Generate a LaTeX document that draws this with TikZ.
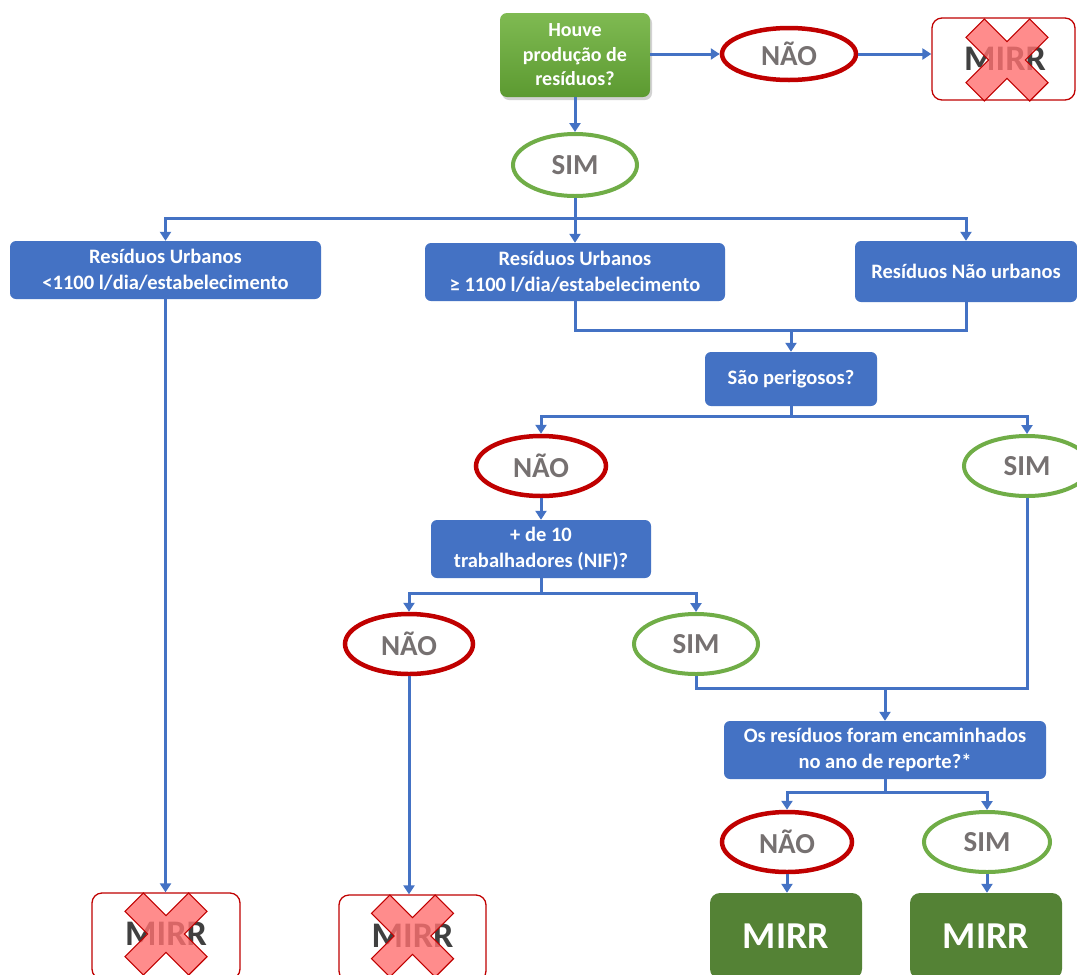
\documentclass[tikz,border=0pt]{standalone}
\usepackage{fontspec}
\setmainfont{Carlito}
\usetikzlibrary{shapes.geometric,arrows.meta,shadows}
\definecolor{cblue}{HTML}{4472C4}
\definecolor{cgreen}{HTML}{548235}
\definecolor{lgreen}{HTML}{70AD47}
\definecolor{cred}{HTML}{C00000}
\definecolor{cgrey}{HTML}{767171}
\definecolor{dgrey}{HTML}{404040}
\definecolor{xpink}{HTML}{FF7070}
\definecolor{gtop}{HTML}{7FBA52}
\definecolor{gbot}{HTML}{5C9A31}
\newcommand{\drawcross}[1]{%
  \filldraw[fill=xpink,fill opacity=0.8,draw=cred,line width=1.2pt,line join=miter]
   [shift={(#1)},rotate=45]
   (13,13)--(13,45)--(-13,45)--(-13,13)--(-45,13)--(-45,-13)--(-13,-13)--(-13,-45)--(13,-45)--(13,-13)--(45,-13)--(45,13)--cycle;}
\tikzset{
  conn/.style={draw=cblue,line width=3pt},
  arr/.style={conn,-{Triangle[width=11pt,length=9pt]}},
  bluebox/.style={rectangle,rounded corners=6pt,fill=cblue,text=white,align=center,
     font=\bfseries\fontsize{20.5}{26}\selectfont,inner sep=0pt},
  nao/.style={ellipse,draw=cred,line width=4.5pt,fill=white,text=cgrey,
     font=\bfseries\fontsize{29}{32}\selectfont,inner sep=0pt},
  sim/.style={ellipse,draw=lgreen,line width=4pt,fill=white,text=cgrey,
     font=\bfseries\fontsize{29}{32}\selectfont,inner sep=0pt},
  greenmirr/.style={rectangle,rounded corners=10pt,fill=cgreen,text=white,
     font=\bfseries\fontsize{38}{42}\selectfont,inner sep=0pt},
  nomirr/.style={rectangle,rounded corners=10pt,draw=cred,line width=1.3pt,fill=white,
     inner sep=0pt},
  mirrtxt/.style={text=dgrey,font=\bfseries\fontsize{36}{40}\selectfont,inner sep=0pt},
}
\begin{document}
\begin{tikzpicture}[x=1pt,y=-1pt]
\clip (0,0) rectangle (1077,975);
\fill[white] (0,0) rectangle (1077,975);
% top question
\node[rectangle,rounded corners=7pt,top color=gtop,bottom color=gbot,text=white,align=center,
  font=\bfseries\fontsize{20}{24.5}\selectfont,minimum width=150pt,minimum height=84pt,inner sep=0pt,
  drop shadow={opacity=0.35,shadow xshift=2pt,shadow yshift=-3pt}]
  (q1) at (575,55) {Houve\\produção de\\resíduos?};
\node[nao,minimum width=134pt,minimum height=52pt] (n1) at (789,54) {NÃO};
\node[nomirr,minimum width=143pt,minimum height=82pt] (x1) at (1003.5,59) {};
\node[mirrtxt] (x1t) at (1005,59) {MIRR};
\drawcross{1007,60}
\node[sim,minimum width=124pt,minimum height=62pt] (s1) at (575,165) {SIM};
% level 2 boxes
\node[bluebox,minimum width=311pt,minimum height=58pt] (b1) at (165.5,270) {Resíduos Urbanos\\<1100 l/dia/estabelecimento};
\node[bluebox,minimum width=300pt,minimum height=58pt] (b2) at (575,272) {Resíduos Urbanos\\≥ 1100 l/dia/estabelecimento};
\node[bluebox,minimum width=222pt,minimum height=61pt] (b3) at (966,271.5) {Resíduos Não urbanos};
\node[bluebox,minimum width=172pt,minimum height=54pt] (p1) at (791,379) {São perigosos?};
\node[nao,minimum width=130pt,minimum height=60pt] (n2) at (541,466) {NÃO};
\node[sim,minimum width=126pt,minimum height=60pt] (s2) at (1027,466) {SIM};
\node[bluebox,minimum width=220pt,minimum height=58pt] (t1) at (541,549) {+ de 10\\trabalhadores (NIF)?};
\node[nao,minimum width=128pt,minimum height=60pt] (n3) at (409,644) {NÃO};
\node[sim,minimum width=124pt,minimum height=60pt] (s3) at (696,644) {SIM};
\node[bluebox,minimum width=322pt,minimum height=58pt] (r1) at (885,750) {Os resíduos foram encaminhados\\no ano de reporte?*};
\node[nao,minimum width=130pt,minimum height=60pt] (n4) at (787,842) {NÃO};
\node[sim,minimum width=126pt,minimum height=60pt] (s4) at (987,842) {SIM};
\node[greenmirr,minimum width=152pt,minimum height=86pt] (m1) at (786,936) {MIRR};
\node[greenmirr,minimum width=152pt,minimum height=86pt] (m2) at (986,936) {MIRR};
% crossed boxes bottom
\node[nomirr,minimum width=148pt,minimum height=86pt] (x3) at (166,936) {};
\node[mirrtxt] (x3t) at (166,934) {MIRR};
\drawcross{166,934}
\node[nomirr,minimum width=147pt,minimum height=86pt] (x4) at (412.5,938) {};
\node[mirrtxt] (x4t) at (412.5,936) {MIRR};
\drawcross{412.5,936}
% junctions
\coordinate (j1) at (575,218);
\coordinate (j2) at (791,330);
\coordinate (j3) at (791,416);
\coordinate (j4) at (541,593);
\coordinate (j5) at (885,688);
\coordinate (j6) at (885,792);
% connectors
\draw[arr] (q1.east |- n1.west) -- (n1.west);
\draw[arr] (n1.east) -- (n1.east -| x1.west);
\draw[arr] (q1.south) -- (s1.north);
\draw[conn] (s1.south) -- (j1);
\draw[arr] (j1) -| (b1.north);
\draw[arr] (j1) -- (b2.north);
\draw[arr] (j1) -| (b3.north);
\draw[conn] (b2.south) |- (j2) -| (b3.south);
\draw[arr] (j2) -- (p1.north);
\draw[conn] (p1.south) -- (j3);
\draw[arr] (j3) -| (n2.north);
\draw[arr] (j3) -| (s2.north);
\draw[arr] (n2.south) -- (t1.north);
\draw[conn] (t1.south) -- (j4);
\draw[arr] (j4) -| (n3.north);
\draw[arr] (j4) -| (s3.north);
\draw[conn] (s3.south) |- (j5);
\draw[conn] (s2.south) |- (j5);
\draw[arr] (j5) -- (r1.north);
\draw[conn] (r1.south) -- (j6);
\draw[arr] (j6) -| (n4.north);
\draw[arr] (j6) -| (s4.north);
\draw[arr] (n4.south) -- (n4.south |- m1.north);
\draw[arr] (s4.south) -- (s4.south |- m2.north);
\draw[arr] (b1.south) -- (b1.south |- x3.north);
\draw[arr] (n3.south) -- (n3.south |- x4.north);
\end{tikzpicture}
\end{document}
